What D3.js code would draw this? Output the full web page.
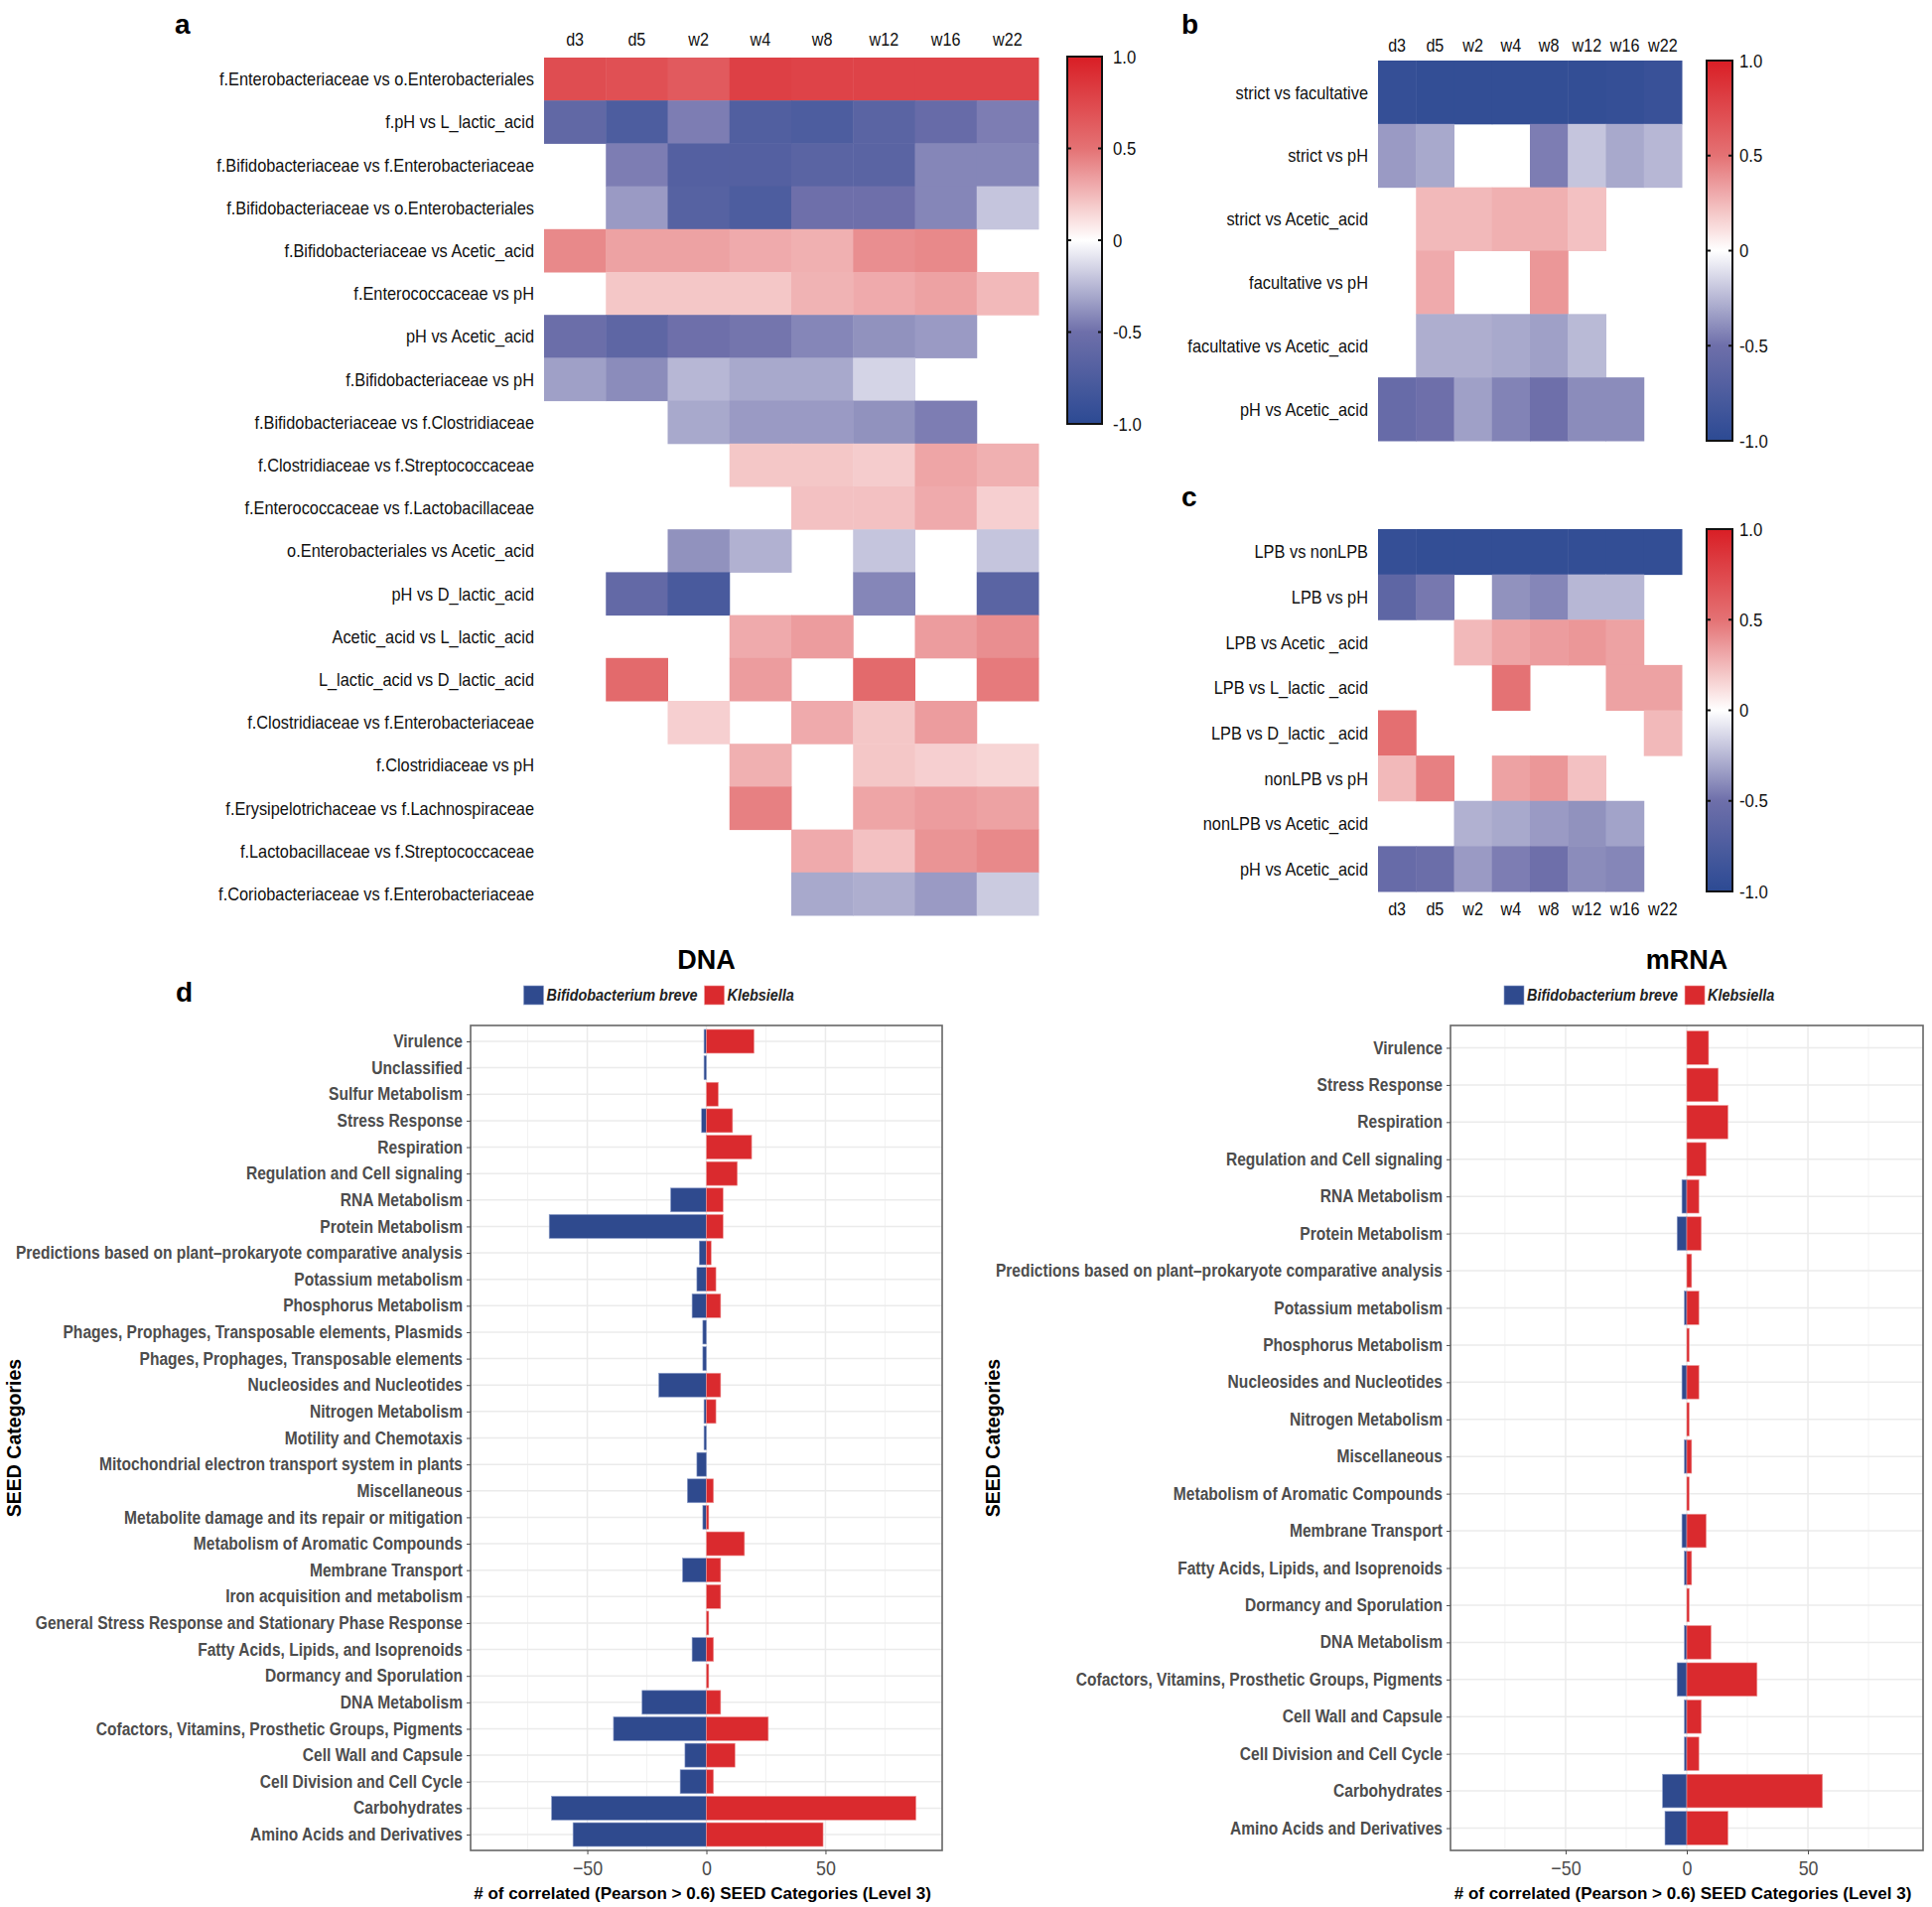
<!DOCTYPE html>
<html lang="en">
<head>
<meta charset="utf-8">
<title>Correlation heatmaps and SEED categories</title>
<script src="https://cdn.jsdelivr.net/npm/d3@7"></script>
<style>
  body { margin: 0; background: #fff; }
</style>
</head>
<body>
<script>
// ---- data ----
var cols = ["d3", "d5", "w2", "w4", "w8", "w12", "w16", "w22"];

var aRows = [
  "f.Enterobacteriaceae vs o.Enterobacteriales",
  "f.pH vs L_lactic_acid",
  "f.Bifidobacteriaceae vs f.Enterobacteriaceae",
  "f.Bifidobacteriaceae vs o.Enterobacteriales",
  "f.Bifidobacteriaceae vs Acetic_acid",
  "f.Enterococcaceae vs pH",
  "pH vs Acetic_acid",
  "f.Bifidobacteriaceae vs pH",
  "f.Bifidobacteriaceae vs f.Clostridiaceae",
  "f.Clostridiaceae vs f.Streptococcaceae",
  "f.Enterococcaceae vs f.Lactobacillaceae",
  "o.Enterobacteriales vs Acetic_acid",
  "pH vs D_lactic_acid",
  "Acetic_acid vs L_lactic_acid",
  "L_lactic_acid vs D_lactic_acid",
  "f.Clostridiaceae vs f.Enterobacteriaceae",
  "f.Clostridiaceae vs pH",
  "f.Erysipelotrichaceae vs f.Lachnospiraceae",
  "f.Lactobacillaceae vs f.Streptococcaceae",
  "f.Coriobacteriaceae vs f.Enterobacteriaceae"
];
var aValues = [
  [0.72, 0.70, 0.64, 0.80, 0.78, 0.78, 0.78, 0.78],
  [-0.60, -0.75, -0.45, -0.72, -0.75, -0.65, -0.55, -0.45],
  [null, -0.45, -0.70, -0.70, -0.65, -0.65, -0.42, -0.42],
  [null, -0.35, -0.68, -0.75, -0.50, -0.50, -0.42, -0.20],
  [0.42, 0.33, 0.33, 0.30, 0.28, 0.40, 0.42, null],
  [null, 0.20, 0.20, 0.20, 0.27, 0.30, 0.33, 0.25],
  [-0.52, -0.62, -0.50, -0.48, -0.42, -0.38, -0.35, null],
  [-0.33, -0.40, -0.25, -0.30, -0.30, -0.15, null, null],
  [null, null, -0.30, -0.35, -0.35, -0.38, -0.45, null],
  [null, null, null, 0.20, 0.20, 0.18, 0.32, 0.28],
  [null, null, null, null, 0.22, 0.22, 0.30, 0.17],
  [null, null, -0.38, -0.27, null, -0.20, null, -0.20],
  [null, -0.58, -0.78, null, null, -0.42, null, -0.65],
  [null, null, null, 0.30, 0.35, null, 0.35, 0.40],
  [null, 0.55, null, 0.35, null, 0.55, null, 0.47],
  [null, null, 0.17, null, 0.30, 0.20, 0.35, null],
  [null, null, null, 0.28, null, 0.20, 0.17, 0.15],
  [null, null, null, 0.45, null, 0.32, 0.35, 0.33],
  [null, null, null, null, 0.30, 0.22, 0.38, 0.42],
  [null, null, null, null, -0.30, -0.28, -0.35, -0.18]
];

var bRows = [
  "strict vs facultative",
  "strict vs pH",
  "strict vs Acetic_acid",
  "facultative vs pH",
  "facultative vs Acetic_acid",
  "pH vs Acetic_acid"
];
var bValues = [
  [-0.93, -0.95, -0.95, -0.95, -0.95, -0.95, -0.93, -0.90],
  [-0.35, -0.30, null, null, -0.45, -0.20, -0.30, -0.25],
  [null, 0.25, 0.25, 0.28, 0.28, 0.22, null, null],
  [null, 0.30, null, null, 0.37, null, null, null],
  [null, -0.28, -0.28, -0.30, -0.33, -0.24, null, null],
  [-0.55, -0.50, -0.33, -0.43, -0.50, -0.40, -0.40, null]
];

var cRows = [
  "LPB vs nonLPB",
  "LPB vs pH",
  "LPB vs Acetic _acid",
  "LPB vs L_lactic _acid",
  "LPB vs D_lactic _acid",
  "nonLPB vs pH",
  "nonLPB vs Acetic_acid",
  "pH vs Acetic_acid"
];
var cValues = [
  [-0.93, -0.95, -0.95, -0.95, -0.95, -0.95, -0.95, -0.95],
  [-0.62, -0.47, null, -0.38, -0.42, -0.25, -0.25, null],
  [null, null, 0.25, 0.32, 0.35, 0.37, 0.33, null],
  [null, null, null, 0.50, null, null, 0.33, 0.33],
  [0.52, null, null, null, null, null, null, 0.25],
  [0.25, 0.45, null, 0.33, 0.37, 0.22, null, null],
  [null, null, -0.27, -0.30, -0.35, -0.38, -0.32, null],
  [-0.55, -0.52, -0.35, -0.45, -0.50, -0.40, -0.42, null]
];

var colorTicks = [1, 0.5, 0, -0.5, -1];

var dnaCategories = [
  "Virulence", "Unclassified", "Sulfur Metabolism", "Stress Response", "Respiration",
  "Regulation and Cell signaling", "RNA Metabolism", "Protein Metabolism",
  "Predictions based on plant\u2013prokaryote comparative analysis",
  "Potassium metabolism", "Phosphorus Metabolism",
  "Phages, Prophages, Transposable elements, Plasmids",
  "Phages, Prophages, Transposable elements",
  "Nucleosides and Nucleotides", "Nitrogen Metabolism", "Motility and Chemotaxis",
  "Mitochondrial electron transport system in plants", "Miscellaneous",
  "Metabolite damage and its repair or mitigation", "Metabolism of Aromatic Compounds",
  "Membrane Transport", "Iron acquisition and metabolism",
  "General Stress Response and Stationary Phase Response",
  "Fatty Acids, Lipids, and Isoprenoids", "Dormancy and Sporulation", "DNA Metabolism",
  "Cofactors, Vitamins, Prosthetic Groups, Pigments", "Cell Wall and Capsule",
  "Cell Division and Cell Cycle", "Carbohydrates", "Amino Acids and Derivatives"
];
var dnaBifido = [-1, -1, 0, -2, 0, 0, -15, -66, -3, -4, -6, -1.5, -1.5, -20, -1, -1, -4, -8,
  -1.5, 0, -10, 0, 0, -6, 0, -27, -39, -9, -11, -65, -56];
var dnaKleb = [20, 0, 5, 11, 19, 13, 7, 7, 2, 4, 6, 0, 0, 6, 4, 0, 0, 3,
  1, 16, 6, 6, 1, 3, 1, 6, 26, 12, 3, 88, 49];

var mrnaCategories = [
  "Virulence", "Stress Response", "Respiration", "Regulation and Cell signaling",
  "RNA Metabolism", "Protein Metabolism",
  "Predictions based on plant\u2013prokaryote comparative analysis",
  "Potassium metabolism", "Phosphorus Metabolism", "Nucleosides and Nucleotides",
  "Nitrogen Metabolism", "Miscellaneous", "Metabolism of Aromatic Compounds",
  "Membrane Transport", "Fatty Acids, Lipids, and Isoprenoids", "Dormancy and Sporulation",
  "DNA Metabolism", "Cofactors, Vitamins, Prosthetic Groups, Pigments",
  "Cell Wall and Capsule", "Cell Division and Cell Cycle", "Carbohydrates",
  "Amino Acids and Derivatives"
];
var mrnaBifido = [0, 0, 0, 0, -2, -4, 0, -1, 0, -2, 0, -1, 0, -2, -1, 0, -1, -4, -1, -1, -10, -9];
var mrnaKleb = [9, 13, 17, 8, 5, 6, 2, 5, 1, 5, 1, 2, 1, 8, 2, 1, 10, 29, 6, 5, 56, 17];

var barTicks = [-50, 0, 50];
var minorTicks = [-75, -25, 25, 75];
var legendNames = ["Bifidobacterium breve", "Klebsiella"];

// ---- setup ----
var w = 1946, h = 1921;
var SANS = "'Liberation Sans', Arial, sans-serif";
var blue = "#2F4A8E", red = "#DA2A2E";

var color = d3.scaleLinear()
  .domain([-1, -0.5, 0, 0.5, 1])
  .range(["#2C4A93", "#6E6FAA", "#FFFFFF", "#E47274", "#D91E25"])
  .clamp(true);

var svg = d3.select("body").append("svg")
  .attr("width", w)
  .attr("height", h);
svg.append("rect").attr("width", w).attr("height", h).attr("fill", "#fff");
var defs = svg.append("defs");

// squeeze text sideways to get the condensed look of the original
function condense(sel, factor) {
  sel.each(function() {
    var n = this.getComputedTextLength();
    d3.select(this).attr("textLength", n * factor).attr("lengthAdjust", "spacingAndGlyphs");
  });
}

function panelLetter(txt, x, y) {
  svg.append("text").text(txt)
    .attr("x", x).attr("y", y)
    .attr("font-family", SANS).attr("font-weight", "bold")
    .attr("font-size", 28).attr("fill", "#000");
}

function heatmap(rows, values, box, colLabelY) {
  var x = d3.scaleBand().domain(cols).range([box.x0, box.x1]);
  var y = d3.scaleBand().domain(rows).range([box.y0, box.y1]);
  var cells = [];
  rows.forEach(function(r, i) {
    cols.forEach(function(c, j) {
      if (values[i][j] !== null) cells.push({ r: r, c: c, v: values[i][j] });
    });
  });
  var g = svg.append("g");
  g.selectAll("rect")
    .data(cells)
    .enter()
    .append("rect")
    .attr("x", function(d) { return x(d.c); })
    .attr("y", function(d) { return y(d.r); })
    .attr("width", x.bandwidth() + 0.5)
    .attr("height", y.bandwidth() + 0.5)
    .attr("fill", function(d) { return color(d.v); });
  var rl = g.selectAll("text.row")
    .data(rows)
    .enter()
    .append("text")
    .attr("class", "row")
    .text(function(d) { return d; })
    .attr("x", box.x0 - 10)
    .attr("y", function(d) { return y(d) + y.bandwidth() / 2; })
    .attr("dy", "0.35em")
    .attr("text-anchor", "end")
    .attr("font-family", SANS)
    .attr("font-size", 19)
    .attr("fill", "#111");
  condense(rl, 0.86);
  var cl = g.selectAll("text.col")
    .data(cols)
    .enter()
    .append("text")
    .attr("class", "col")
    .text(function(d) { return d; })
    .attr("x", function(d) { return x(d) + x.bandwidth() / 2; })
    .attr("y", colLabelY)
    .attr("text-anchor", "middle")
    .attr("font-family", SANS)
    .attr("font-size", 19)
    .attr("fill", "#111");
  condense(cl, 0.85);
}

function colorbar(id, x0, bw, y0, y1, labelX) {
  var grad = defs.append("linearGradient")
    .attr("id", id)
    .attr("x1", 0).attr("y1", 1).attr("x2", 0).attr("y2", 0);
  d3.range(0, 1.0001, 0.05).forEach(function(t) {
    grad.append("stop")
      .attr("offset", t)
      .attr("stop-color", color(-1 + 2 * t));
  });
  var s = d3.scaleLinear().domain([1, -1]).range([y0, y1]);
  var g = svg.append("g");
  g.append("rect")
    .attr("x", x0).attr("y", y0)
    .attr("width", bw).attr("height", y1 - y0)
    .attr("fill", "url(#" + id + ")")
    .attr("stroke", "#111").attr("stroke-width", 2);
  var inner = colorTicks.filter(function(d) { return Math.abs(d) < 1; });
  g.selectAll("line.l")
    .data(inner).enter().append("line")
    .attr("x1", x0).attr("x2", x0 + 4)
    .attr("y1", s).attr("y2", s)
    .attr("stroke", "#111").attr("stroke-width", 2);
  g.selectAll("line.r")
    .data(inner).enter().append("line")
    .attr("x1", x0 + bw - 4).attr("x2", x0 + bw)
    .attr("y1", s).attr("y2", s)
    .attr("stroke", "#111").attr("stroke-width", 2);
  var lab = g.selectAll("text")
    .data(colorTicks).enter().append("text")
    .text(function(d) { return d === 0 ? "0" : (d < 0 ? "-" : "") + Math.abs(d).toFixed(1); })
    .attr("x", labelX)
    .attr("y", s)
    .attr("dy", "0.35em")
    .attr("font-family", SANS)
    .attr("font-size", 19)
    .attr("fill", "#111");
  condense(lab, 0.88);
}

function barChart(cfg) {
  var x = d3.scaleLinear().domain(cfg.domain).range([cfg.x0, cfg.x1]);
  var y = d3.scalePoint().domain(cfg.categories).range([cfg.y0, cfg.y1]).padding(0.6);
  var bh = y.step() * 0.9;
  var g = svg.append("g");

  // panel grid
  g.selectAll("line.minor")
    .data(minorTicks).enter().append("line")
    .attr("x1", x).attr("x2", x)
    .attr("y1", cfg.y0).attr("y2", cfg.y1)
    .attr("stroke", "#F2F2F2").attr("stroke-width", 1);
  g.selectAll("line.vmajor")
    .data(barTicks).enter().append("line")
    .attr("x1", x).attr("x2", x)
    .attr("y1", cfg.y0).attr("y2", cfg.y1)
    .attr("stroke", "#EBEBEB").attr("stroke-width", 1.5);
  g.selectAll("line.hmajor")
    .data(cfg.categories).enter().append("line")
    .attr("x1", cfg.x0).attr("x2", cfg.x1)
    .attr("y1", y).attr("y2", y)
    .attr("stroke", "#EBEBEB").attr("stroke-width", 1.5);

  // bars
  var rowsB = cfg.categories.map(function(c, i) { return { c: c, v: cfg.bifido[i] }; })
    .filter(function(d) { return d.v !== 0; });
  var rowsK = cfg.categories.map(function(c, i) { return { c: c, v: cfg.kleb[i] }; })
    .filter(function(d) { return d.v !== 0; });
  g.selectAll("rect.b")
    .data(rowsB).enter().append("rect")
    .attr("x", function(d) { return x(d.v); })
    .attr("y", function(d) { return y(d.c) - bh / 2; })
    .attr("width", function(d) { return x(0) - x(d.v); })
    .attr("height", bh)
    .attr("fill", blue)
    .attr("stroke", "#8FA0CC").attr("stroke-width", 0.6);
  g.selectAll("rect.k")
    .data(rowsK).enter().append("rect")
    .attr("x", x(0))
    .attr("y", function(d) { return y(d.c) - bh / 2; })
    .attr("width", function(d) { return x(d.v) - x(0); })
    .attr("height", bh)
    .attr("fill", red)
    .attr("stroke", "#EE9A9A").attr("stroke-width", 0.6);

  // panel border
  g.append("rect")
    .attr("x", cfg.x0).attr("y", cfg.y0)
    .attr("width", cfg.x1 - cfg.x0).attr("height", cfg.y1 - cfg.y0)
    .attr("fill", "none").attr("stroke", "#666").attr("stroke-width", 1.6);

  // y axis
  var ya = g.append("g")
    .attr("transform", "translate(" + cfg.x0 + ",0)")
    .call(d3.axisLeft(y).tickSize(4).tickPadding(4));
  ya.select(".domain").remove();
  ya.selectAll("line").attr("stroke", "#4D4D4D");
  ya.selectAll("text")
    .attr("font-family", SANS).attr("font-weight", "bold")
    .attr("font-size", 17.5).attr("fill", "#4D4D4D");
  condense(ya.selectAll("text"), 0.89);

  // x axis
  var xa = g.append("g")
    .attr("transform", "translate(0," + cfg.y1 + ")")
    .call(d3.axisBottom(x).tickValues(barTicks).tickSize(4).tickPadding(6)
      .tickFormat(function(d) { return d < 0 ? "\u2212" + Math.abs(d) : d; }));
  xa.select(".domain").remove();
  xa.selectAll("line").attr("stroke", "#4D4D4D");
  xa.selectAll("text")
    .attr("font-family", SANS)
    .attr("font-size", 21).attr("fill", "#4D4D4D");
  condense(xa.selectAll("text"), 0.85);

  var cx = (cfg.x0 + cfg.x1) / 2;
  g.append("text").text(cfg.title)
    .attr("x", cx).attr("y", 976)
    .attr("text-anchor", "middle")
    .attr("font-family", SANS).attr("font-weight", "bold")
    .attr("font-size", 27).attr("fill", "#000");
  g.append("text").text("# of correlated (Pearson > 0.6) SEED Categories (Level 3)")
    .attr("x", cx - 4).attr("y", 1913)
    .attr("text-anchor", "middle")
    .attr("font-family", SANS).attr("font-weight", "bold")
    .attr("font-size", 17).attr("fill", "#000");
  g.append("text").text("SEED Categories")
    .attr("transform", "translate(" + cfg.ytitleX + "," + (cfg.y0 + cfg.y1) / 2 + ") rotate(-90)")
    .attr("text-anchor", "middle")
    .attr("font-family", SANS).attr("font-weight", "bold")
    .attr("font-size", 19.5).attr("fill", "#000");

  // legend
  var lx = cx - 184;
  var lg = g.append("g");
  lg.append("rect").attr("x", lx).attr("y", 993).attr("width", 20).attr("height", 19)
    .attr("fill", blue).attr("stroke", "#8FA0CC").attr("stroke-width", 0.6);
  var t1 = lg.append("text").text(legendNames[0])
    .attr("x", lx + 23).attr("y", 1008)
    .attr("font-family", SANS).attr("font-weight", "bold").attr("font-style", "italic")
    .attr("font-size", 16).attr("fill", "#222");
  condense(t1, 0.9);
  var rx = lx + 23 + +t1.attr("textLength") + 7;
  lg.append("rect").attr("x", rx).attr("y", 993).attr("width", 20).attr("height", 19)
    .attr("fill", red).attr("stroke", "#EE9A9A").attr("stroke-width", 0.6);
  var t2 = lg.append("text").text(legendNames[1])
    .attr("x", rx + 23).attr("y", 1008)
    .attr("font-family", SANS).attr("font-weight", "bold").attr("font-style", "italic")
    .attr("font-size", 16).attr("fill", "#222");
  condense(t2, 0.9);
}

// ---- panels a, b, c ----
panelLetter("a", 176, 34);
heatmap(aRows, aValues, { x0: 548, x1: 1046, y0: 58, y1: 922 }, 46);
colorbar("cbA", 1075, 35, 57, 427, 1121);

panelLetter("b", 1190, 34);
heatmap(bRows, bValues, { x0: 1388, x1: 1694, y0: 61, y1: 444 }, 52);
colorbar("cbB", 1719, 26, 61, 444, 1752);

panelLetter("c", 1190, 510);
heatmap(cRows, cValues, { x0: 1388, x1: 1694, y0: 533, y1: 898 }, 922);
colorbar("cbC", 1719, 26, 533, 898, 1752);

// ---- panel d ----
panelLetter("d", 177, 1009);
barChart({
  title: "DNA", categories: dnaCategories, bifido: dnaBifido, kleb: dnaKleb,
  domain: [-99, 99], x0: 474, x1: 949, y0: 1033, y1: 1864, ytitleX: 21
});
barChart({
  title: "mRNA", categories: mrnaCategories, bifido: mrnaBifido, kleb: mrnaKleb,
  domain: [-97.5, 97.5], x0: 1461, x1: 1937, y0: 1033, y1: 1864, ytitleX: 1007
});
</script>
</body>
</html>
